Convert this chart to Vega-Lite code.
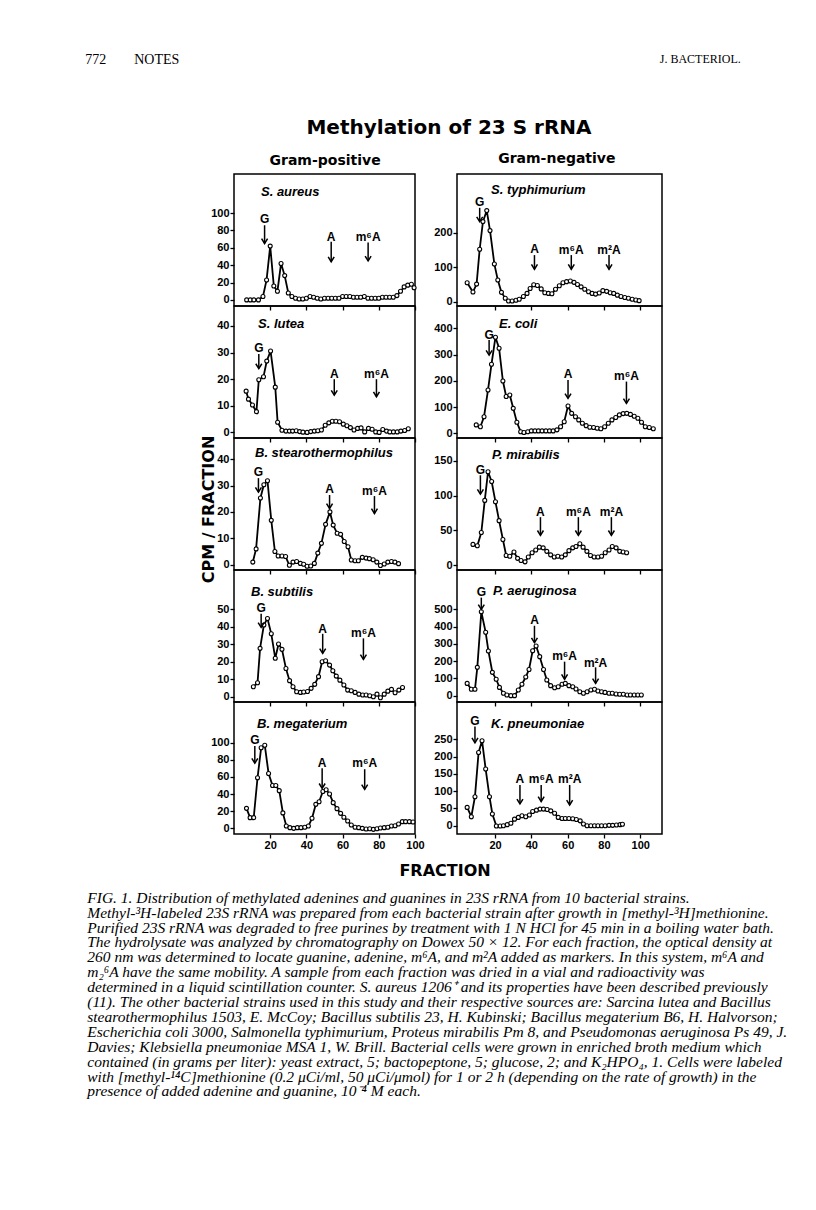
{
"$schema": "https://vega.github.io/schema/vega-lite/v6.json",
"background": "white",
"padding": {"left": 85, "top": 53, "right": 10, "bottom": 10},
"config": {
  "view": {"stroke": "black", "strokeWidth": 1.5},
  "axis": {"domain": false, "grid": false, "tickColor": "black", "tickWidth": 1.3, "tickSize": 4, "labelFont": "Liberation Sans", "labelFontWeight": "bold", "labelFontSize": 11, "labelColor": "black", "labelPadding": 1, "labelFlush": false, "labelOverlap": false},
  "title": {"color": "black"}
},
"datasets": {
"curves": [
{"p":"Sau","x":7,"y":0},{"p":"Sau","x":9,"y":0},{"p":"Sau","x":11,"y":0},{"p":"Sau","x":13.5,"y":0},{"p":"Sau","x":16,"y":4},{"p":"Sau","x":18,"y":23},{"p":"Sau","x":20,"y":62},{"p":"Sau","x":22,"y":16},{"p":"Sau","x":24,"y":10},{"p":"Sau","x":26,"y":42},{"p":"Sau","x":28,"y":28},{"p":"Sau","x":30,"y":8},{"p":"Sau","x":32,"y":4},{"p":"Sau","x":34,"y":2},{"p":"Sau","x":36,"y":1},{"p":"Sau","x":38,"y":1},{"p":"Sau","x":40,"y":2},{"p":"Sau","x":42,"y":4},{"p":"Sau","x":44,"y":3},{"p":"Sau","x":46,"y":2},{"p":"Sau","x":48,"y":1},{"p":"Sau","x":50,"y":2},{"p":"Sau","x":52,"y":2},{"p":"Sau","x":54,"y":2},{"p":"Sau","x":56,"y":2},{"p":"Sau","x":58,"y":2},{"p":"Sau","x":60,"y":4},{"p":"Sau","x":62,"y":4},{"p":"Sau","x":64,"y":4},{"p":"Sau","x":66,"y":3},{"p":"Sau","x":68,"y":3},{"p":"Sau","x":70,"y":3},{"p":"Sau","x":72,"y":4},{"p":"Sau","x":74,"y":2},{"p":"Sau","x":76,"y":2},{"p":"Sau","x":78,"y":2},{"p":"Sau","x":80,"y":2},{"p":"Sau","x":82,"y":3},{"p":"Sau","x":84,"y":3},{"p":"Sau","x":86,"y":3},{"p":"Sau","x":88,"y":3},{"p":"Sau","x":90,"y":5},{"p":"Sau","x":92,"y":10},{"p":"Sau","x":94,"y":15},{"p":"Sau","x":96,"y":17},{"p":"Sau","x":98,"y":18},{"p":"Sau","x":99.5,"y":14},
{"p":"Slu","x":6.7,"y":15.5},{"p":"Slu","x":8,"y":12.5},{"p":"Slu","x":10.2,"y":10.3},{"p":"Slu","x":12.4,"y":7.8},{"p":"Slu","x":13.7,"y":19.8},{"p":"Slu","x":16.3,"y":20.9},{"p":"Slu","x":18.1,"y":26.8},{"p":"Slu","x":20.2,"y":30.6},{"p":"Slu","x":22.8,"y":17},{"p":"Slu","x":24.1,"y":3.8},{"p":"Slu","x":26.5,"y":0.8},{"p":"Slu","x":28.7,"y":0.5},{"p":"Slu","x":30.6,"y":0.5},{"p":"Slu","x":32.4,"y":0.5},{"p":"Slu","x":34.4,"y":0.6},{"p":"Slu","x":36.3,"y":0.3},{"p":"Slu","x":38.1,"y":0.1},{"p":"Slu","x":40.4,"y":0},{"p":"Slu","x":42.4,"y":0.3},{"p":"Slu","x":44.4,"y":0.5},{"p":"Slu","x":46.3,"y":0.6},{"p":"Slu","x":48.3,"y":0.9},{"p":"Slu","x":50.4,"y":2.7},{"p":"Slu","x":52.4,"y":3.6},{"p":"Slu","x":54.3,"y":4.2},{"p":"Slu","x":56.3,"y":4.2},{"p":"Slu","x":58.3,"y":4},{"p":"Slu","x":60.4,"y":3.1},{"p":"Slu","x":62.4,"y":2.5},{"p":"Slu","x":64.3,"y":1.8},{"p":"Slu","x":66.3,"y":0.9},{"p":"Slu","x":68.3,"y":1.5},{"p":"Slu","x":70.2,"y":1.7},{"p":"Slu","x":72.2,"y":0.2},{"p":"Slu","x":74.3,"y":1.5},{"p":"Slu","x":76.3,"y":1.2},{"p":"Slu","x":78.3,"y":0.2},{"p":"Slu","x":80.2,"y":0},{"p":"Slu","x":82.2,"y":1.1},{"p":"Slu","x":84.3,"y":0.5},{"p":"Slu","x":86.1,"y":0.2},{"p":"Slu","x":88.1,"y":0.2},{"p":"Slu","x":90.2,"y":0.2},{"p":"Slu","x":92.2,"y":0.5},{"p":"Slu","x":94.3,"y":0.7},{"p":"Slu","x":96.3,"y":1.4},
{"p":"Bst","x":10.4,"y":1},{"p":"Bst","x":12.2,"y":6},{"p":"Bst","x":14.6,"y":25.3},{"p":"Bst","x":16.5,"y":30.3},{"p":"Bst","x":18.5,"y":31.8},{"p":"Bst","x":20.6,"y":16.8},{"p":"Bst","x":22.6,"y":5},{"p":"Bst","x":24.4,"y":3.3},{"p":"Bst","x":26.5,"y":3.3},{"p":"Bst","x":28.5,"y":3.1},{"p":"Bst","x":30.6,"y":-0.2},{"p":"Bst","x":32.6,"y":1},{"p":"Bst","x":34.6,"y":1.2},{"p":"Bst","x":36.7,"y":0.5},{"p":"Bst","x":38.5,"y":0.2},{"p":"Bst","x":40.4,"y":-0.6},{"p":"Bst","x":42.4,"y":-0.5},{"p":"Bst","x":44.4,"y":0.5},{"p":"Bst","x":46.3,"y":4.4},{"p":"Bst","x":48.3,"y":8.1},{"p":"Bst","x":50.6,"y":15.3},{"p":"Bst","x":53,"y":20},{"p":"Bst","x":54.8,"y":15},{"p":"Bst","x":57,"y":11.9},{"p":"Bst","x":58.9,"y":11.5},{"p":"Bst","x":60.9,"y":8.8},{"p":"Bst","x":63,"y":6.8},{"p":"Bst","x":64.8,"y":1.8},{"p":"Bst","x":66.9,"y":1.5},{"p":"Bst","x":68.7,"y":1.5},{"p":"Bst","x":70.9,"y":2.8},{"p":"Bst","x":73,"y":2.5},{"p":"Bst","x":74.8,"y":2.3},{"p":"Bst","x":76.9,"y":1.9},{"p":"Bst","x":78.9,"y":1},{"p":"Bst","x":80.9,"y":-0.3},{"p":"Bst","x":83,"y":0.3},{"p":"Bst","x":85,"y":1},{"p":"Bst","x":87,"y":1.2},{"p":"Bst","x":88.9,"y":1},{"p":"Bst","x":90.9,"y":0.4},
{"p":"Bsu","x":10.7,"y":5.7},{"p":"Bsu","x":13,"y":8},{"p":"Bsu","x":14.4,"y":27.7},{"p":"Bsu","x":16.5,"y":41},{"p":"Bsu","x":18.5,"y":44.8},{"p":"Bsu","x":20.6,"y":36},{"p":"Bsu","x":22.8,"y":22},{"p":"Bsu","x":24.6,"y":30.2},{"p":"Bsu","x":26.5,"y":27.1},{"p":"Bsu","x":28.7,"y":16.2},{"p":"Bsu","x":30.7,"y":9.2},{"p":"Bsu","x":32.6,"y":5.7},{"p":"Bsu","x":34.6,"y":2.9},{"p":"Bsu","x":36.7,"y":2.5},{"p":"Bsu","x":38.5,"y":2.7},{"p":"Bsu","x":40.6,"y":3},{"p":"Bsu","x":42.6,"y":4.8},{"p":"Bsu","x":44.6,"y":7.1},{"p":"Bsu","x":46.7,"y":11.5},{"p":"Bsu","x":48.7,"y":20},{"p":"Bsu","x":50.6,"y":20.6},{"p":"Bsu","x":52.8,"y":18.1},{"p":"Bsu","x":54.6,"y":14.9},{"p":"Bsu","x":56.5,"y":11.8},{"p":"Bsu","x":58.5,"y":9.5},{"p":"Bsu","x":60.7,"y":6.7},{"p":"Bsu","x":62.8,"y":3.8},{"p":"Bsu","x":64.8,"y":3.4},{"p":"Bsu","x":66.9,"y":2.5},{"p":"Bsu","x":69,"y":1.5},{"p":"Bsu","x":71.1,"y":1},{"p":"Bsu","x":73,"y":1},{"p":"Bsu","x":75,"y":0.6},{"p":"Bsu","x":77,"y":0},{"p":"Bsu","x":79,"y":1.5},{"p":"Bsu","x":80.9,"y":-0.6},{"p":"Bsu","x":83,"y":1.5},{"p":"Bsu","x":85,"y":3.2},{"p":"Bsu","x":87,"y":4.2},{"p":"Bsu","x":89,"y":2.3},{"p":"Bsu","x":91.1,"y":3.8},{"p":"Bsu","x":93.1,"y":5.3},
{"p":"Bme","x":6.9,"y":23.3},{"p":"Bme","x":8.9,"y":12.5},{"p":"Bme","x":10.9,"y":12.5},{"p":"Bme","x":13,"y":59},{"p":"Bme","x":15,"y":94},{"p":"Bme","x":17,"y":97},{"p":"Bme","x":19.1,"y":64},{"p":"Bme","x":21.3,"y":50},{"p":"Bme","x":23.1,"y":50},{"p":"Bme","x":25,"y":44},{"p":"Bme","x":27,"y":18},{"p":"Bme","x":28.9,"y":2.7},{"p":"Bme","x":30.9,"y":0.8},{"p":"Bme","x":33,"y":0},{"p":"Bme","x":35,"y":0.8},{"p":"Bme","x":37,"y":0.8},{"p":"Bme","x":39.1,"y":1.2},{"p":"Bme","x":41.1,"y":2.7},{"p":"Bme","x":43.1,"y":11.7},{"p":"Bme","x":45.2,"y":28},{"p":"Bme","x":47,"y":31},{"p":"Bme","x":49.1,"y":43},{"p":"Bme","x":50.9,"y":45},{"p":"Bme","x":52.8,"y":40},{"p":"Bme","x":54.8,"y":30},{"p":"Bme","x":56.9,"y":23},{"p":"Bme","x":58.9,"y":17.5},{"p":"Bme","x":60.7,"y":13},{"p":"Bme","x":62.8,"y":8.6},{"p":"Bme","x":64.8,"y":3.9},{"p":"Bme","x":66.9,"y":1.2},{"p":"Bme","x":68.9,"y":0.8},{"p":"Bme","x":70.9,"y":0},{"p":"Bme","x":73,"y":-0.8},{"p":"Bme","x":75,"y":-0.4},{"p":"Bme","x":77,"y":-1.2},{"p":"Bme","x":79,"y":-0.4},{"p":"Bme","x":80.9,"y":0.4},{"p":"Bme","x":83,"y":0.8},{"p":"Bme","x":85,"y":1.2},{"p":"Bme","x":87,"y":2.7},{"p":"Bme","x":89,"y":3.1},{"p":"Bme","x":90.9,"y":5},{"p":"Bme","x":93,"y":7.8},{"p":"Bme","x":94.8,"y":7.8},{"p":"Bme","x":96.9,"y":7.8},{"p":"Bme","x":98.9,"y":7.4},
{"p":"Sty","x":4.6,"y":55},{"p":"Sty","x":7.8,"y":28},{"p":"Sty","x":9.8,"y":51},{"p":"Sty","x":11.5,"y":152},{"p":"Sty","x":13.3,"y":232},{"p":"Sty","x":15.4,"y":264},{"p":"Sty","x":17.2,"y":206},{"p":"Sty","x":19.6,"y":109},{"p":"Sty","x":21.5,"y":63},{"p":"Sty","x":23.5,"y":27},{"p":"Sty","x":25.6,"y":10},{"p":"Sty","x":27.4,"y":2},{"p":"Sty","x":29.4,"y":2},{"p":"Sty","x":31.5,"y":4},{"p":"Sty","x":33.3,"y":7},{"p":"Sty","x":35.6,"y":15},{"p":"Sty","x":37.6,"y":24},{"p":"Sty","x":39.3,"y":38},{"p":"Sty","x":41.3,"y":49},{"p":"Sty","x":43.3,"y":47},{"p":"Sty","x":45.4,"y":37},{"p":"Sty","x":47.4,"y":26},{"p":"Sty","x":49.4,"y":24},{"p":"Sty","x":51.3,"y":23},{"p":"Sty","x":53.3,"y":36},{"p":"Sty","x":55.4,"y":46},{"p":"Sty","x":57.4,"y":55},{"p":"Sty","x":59.4,"y":58},{"p":"Sty","x":61.5,"y":60},{"p":"Sty","x":63.5,"y":56},{"p":"Sty","x":65.4,"y":50},{"p":"Sty","x":67.4,"y":43},{"p":"Sty","x":69.4,"y":36},{"p":"Sty","x":71.5,"y":29},{"p":"Sty","x":73.5,"y":24},{"p":"Sty","x":75.4,"y":22},{"p":"Sty","x":77.4,"y":25},{"p":"Sty","x":79.4,"y":32},{"p":"Sty","x":81.5,"y":30},{"p":"Sty","x":83.5,"y":26},{"p":"Sty","x":85.4,"y":24},{"p":"Sty","x":87.4,"y":19},{"p":"Sty","x":89.4,"y":15},{"p":"Sty","x":91.5,"y":12},{"p":"Sty","x":93.5,"y":10},{"p":"Sty","x":95.6,"y":7},{"p":"Sty","x":97.6,"y":5},{"p":"Sty","x":99.4,"y":3},
{"p":"Eco","x":9.6,"y":32},{"p":"Eco","x":11.9,"y":25},{"p":"Eco","x":13.9,"y":63},{"p":"Eco","x":16.1,"y":165},{"p":"Eco","x":18,"y":263},{"p":"Eco","x":20.2,"y":366},{"p":"Eco","x":22.2,"y":324},{"p":"Eco","x":24.3,"y":199},{"p":"Eco","x":26.1,"y":140},{"p":"Eco","x":28.1,"y":146},{"p":"Eco","x":30,"y":95},{"p":"Eco","x":32,"y":42},{"p":"Eco","x":34.1,"y":6},{"p":"Eco","x":35.9,"y":3},{"p":"Eco","x":38,"y":6},{"p":"Eco","x":40,"y":9},{"p":"Eco","x":42,"y":9},{"p":"Eco","x":43.9,"y":9},{"p":"Eco","x":45.9,"y":9},{"p":"Eco","x":48,"y":9},{"p":"Eco","x":50,"y":9},{"p":"Eco","x":52,"y":9},{"p":"Eco","x":54.1,"y":13},{"p":"Eco","x":56.1,"y":25},{"p":"Eco","x":58.1,"y":44},{"p":"Eco","x":60.2,"y":104},{"p":"Eco","x":62.2,"y":76},{"p":"Eco","x":64.3,"y":63},{"p":"Eco","x":66.1,"y":51},{"p":"Eco","x":68.1,"y":38},{"p":"Eco","x":70.2,"y":29},{"p":"Eco","x":72.2,"y":23},{"p":"Eco","x":74.3,"y":22},{"p":"Eco","x":76.3,"y":19},{"p":"Eco","x":78.3,"y":17},{"p":"Eco","x":80.4,"y":25},{"p":"Eco","x":82.4,"y":38},{"p":"Eco","x":84.4,"y":51},{"p":"Eco","x":86.5,"y":60},{"p":"Eco","x":88.5,"y":70},{"p":"Eco","x":90.6,"y":75},{"p":"Eco","x":92.6,"y":76},{"p":"Eco","x":94.6,"y":72},{"p":"Eco","x":96.7,"y":65},{"p":"Eco","x":98.7,"y":57},{"p":"Eco","x":100.7,"y":42},{"p":"Eco","x":102.8,"y":25},{"p":"Eco","x":105,"y":22},{"p":"Eco","x":107.2,"y":17},
{"p":"Pmi","x":7.8,"y":30},{"p":"Pmi","x":10.2,"y":28},{"p":"Pmi","x":12.4,"y":47},{"p":"Pmi","x":14.3,"y":93},{"p":"Pmi","x":16.1,"y":134},{"p":"Pmi","x":18.1,"y":120},{"p":"Pmi","x":20.2,"y":91},{"p":"Pmi","x":22.2,"y":64},{"p":"Pmi","x":24.3,"y":37},{"p":"Pmi","x":26.1,"y":14},{"p":"Pmi","x":28.1,"y":13},{"p":"Pmi","x":30.4,"y":19},{"p":"Pmi","x":32.4,"y":10},{"p":"Pmi","x":34.3,"y":7},{"p":"Pmi","x":36.5,"y":5},{"p":"Pmi","x":38.3,"y":12},{"p":"Pmi","x":40.4,"y":18},{"p":"Pmi","x":42.4,"y":22},{"p":"Pmi","x":44.4,"y":26},{"p":"Pmi","x":46.5,"y":25},{"p":"Pmi","x":48.5,"y":20},{"p":"Pmi","x":50.6,"y":15},{"p":"Pmi","x":52.6,"y":12},{"p":"Pmi","x":54.6,"y":13},{"p":"Pmi","x":56.7,"y":12},{"p":"Pmi","x":58.7,"y":15},{"p":"Pmi","x":60.7,"y":21},{"p":"Pmi","x":62.8,"y":25},{"p":"Pmi","x":64.6,"y":27},{"p":"Pmi","x":66.7,"y":31},{"p":"Pmi","x":68.5,"y":26},{"p":"Pmi","x":70.6,"y":20},{"p":"Pmi","x":72.6,"y":14},{"p":"Pmi","x":74.6,"y":12},{"p":"Pmi","x":76.7,"y":12},{"p":"Pmi","x":78.7,"y":13},{"p":"Pmi","x":80.7,"y":18},{"p":"Pmi","x":82.8,"y":22},{"p":"Pmi","x":84.6,"y":27},{"p":"Pmi","x":86.7,"y":25},{"p":"Pmi","x":88.7,"y":20},{"p":"Pmi","x":90.6,"y":19},{"p":"Pmi","x":92.5,"y":18},
{"p":"Pae","x":4.6,"y":71},{"p":"Pae","x":6.9,"y":37},{"p":"Pae","x":8.9,"y":37},{"p":"Pae","x":10.2,"y":164},{"p":"Pae","x":12.4,"y":486},{"p":"Pae","x":14.8,"y":367},{"p":"Pae","x":16.3,"y":259},{"p":"Pae","x":18.5,"y":135},{"p":"Pae","x":20.6,"y":95},{"p":"Pae","x":22.4,"y":48},{"p":"Pae","x":24.6,"y":14},{"p":"Pae","x":26.5,"y":4},{"p":"Pae","x":28.7,"y":0},{"p":"Pae","x":30.7,"y":0},{"p":"Pae","x":32.8,"y":33},{"p":"Pae","x":34.8,"y":66},{"p":"Pae","x":36.9,"y":108},{"p":"Pae","x":38.7,"y":152},{"p":"Pae","x":40.7,"y":260},{"p":"Pae","x":42.6,"y":288},{"p":"Pae","x":44.6,"y":226},{"p":"Pae","x":46.7,"y":152},{"p":"Pae","x":48.5,"y":91},{"p":"Pae","x":50.6,"y":58},{"p":"Pae","x":52.8,"y":46},{"p":"Pae","x":54.8,"y":52},{"p":"Pae","x":56.9,"y":66},{"p":"Pae","x":58.7,"y":71},{"p":"Pae","x":60.7,"y":58},{"p":"Pae","x":62.8,"y":52},{"p":"Pae","x":64.6,"y":39},{"p":"Pae","x":66.7,"y":23},{"p":"Pae","x":68.7,"y":14},{"p":"Pae","x":70.7,"y":23},{"p":"Pae","x":72.8,"y":33},{"p":"Pae","x":74.8,"y":37},{"p":"Pae","x":76.7,"y":27},{"p":"Pae","x":78.7,"y":23},{"p":"Pae","x":80.6,"y":19},{"p":"Pae","x":82.8,"y":14},{"p":"Pae","x":84.6,"y":14},{"p":"Pae","x":86.7,"y":10},{"p":"Pae","x":88.7,"y":8},{"p":"Pae","x":90.7,"y":8},{"p":"Pae","x":92.8,"y":4},{"p":"Pae","x":94.6,"y":4},{"p":"Pae","x":96.7,"y":4},{"p":"Pae","x":98.7,"y":4},{"p":"Pae","x":100.6,"y":4},
{"p":"Kpn","x":4.6,"y":53},{"p":"Kpn","x":6.9,"y":26},{"p":"Kpn","x":8.9,"y":84},{"p":"Kpn","x":10.9,"y":212},{"p":"Kpn","x":12.8,"y":246},{"p":"Kpn","x":14.8,"y":164},{"p":"Kpn","x":16.9,"y":84},{"p":"Kpn","x":18.5,"y":34},{"p":"Kpn","x":20.7,"y":-1},{"p":"Kpn","x":22.8,"y":-1},{"p":"Kpn","x":24.6,"y":0},{"p":"Kpn","x":26.7,"y":3},{"p":"Kpn","x":28.7,"y":7},{"p":"Kpn","x":30.7,"y":19},{"p":"Kpn","x":32.8,"y":24},{"p":"Kpn","x":34.8,"y":29},{"p":"Kpn","x":36.9,"y":26},{"p":"Kpn","x":38.9,"y":31},{"p":"Kpn","x":40.7,"y":41},{"p":"Kpn","x":42.8,"y":45},{"p":"Kpn","x":44.8,"y":48},{"p":"Kpn","x":46.7,"y":48},{"p":"Kpn","x":48.7,"y":47},{"p":"Kpn","x":50.7,"y":43},{"p":"Kpn","x":52.8,"y":36},{"p":"Kpn","x":54.8,"y":24},{"p":"Kpn","x":56.9,"y":21},{"p":"Kpn","x":58.7,"y":21},{"p":"Kpn","x":60.7,"y":21},{"p":"Kpn","x":62.8,"y":20},{"p":"Kpn","x":64.8,"y":18},{"p":"Kpn","x":66.9,"y":14},{"p":"Kpn","x":68.7,"y":5},{"p":"Kpn","x":70.7,"y":0},{"p":"Kpn","x":72.8,"y":0},{"p":"Kpn","x":74.8,"y":0},{"p":"Kpn","x":76.7,"y":0},{"p":"Kpn","x":78.7,"y":0},{"p":"Kpn","x":80.7,"y":0},{"p":"Kpn","x":82.8,"y":1},{"p":"Kpn","x":84.8,"y":1},{"p":"Kpn","x":86.9,"y":2},{"p":"Kpn","x":88.9,"y":3},{"p":"Kpn","x":90.2,"y":4}
],
"arrows": [
{"p":"Sau","label":"G","x":16.9,"y":93,"top":86,"tip":65},{"p":"Sau","label":"A","x":53.7,"y":73,"top":67,"tip":44},{"p":"Sau","label":"m⁶A","x":74.1,"y":73,"top":66,"tip":45},
{"p":"Slu","label":"G","x":13.7,"y":31.8,"top":29.5,"tip":24},{"p":"Slu","label":"A","x":55.4,"y":22,"top":20,"tip":14},{"p":"Slu","label":"m⁶A","x":78.7,"y":22,"top":20,"tip":13.4},
{"p":"Bst","label":"G","x":13.5,"y":35.3,"top":32.8,"tip":27.5},{"p":"Bst","label":"A","x":52.8,"y":28.5,"top":26.4,"tip":21.3},{"p":"Bst","label":"m⁶A","x":77.6,"y":28,"top":26,"tip":19.4},
{"p":"Bsu","label":"G","x":15,"y":50.6,"top":47.5,"tip":39.7},{"p":"Bsu","label":"A","x":49,"y":39,"top":36,"tip":24.8},{"p":"Bsu","label":"m⁶A","x":71.5,"y":36.6,"top":33.4,"tip":21.4},
{"p":"Bme","label":"G","x":11.5,"y":103,"top":96,"tip":76},{"p":"Bme","label":"A","x":48.7,"y":76,"top":70,"tip":46.7},{"p":"Bme","label":"m⁶A","x":72.2,"y":76,"top":69,"tip":45.5},
{"p":"Sty","label":"G","x":11.5,"y":290,"top":272,"tip":232},{"p":"Sty","label":"A","x":41.7,"y":153,"top":135,"tip":94},{"p":"Sty","label":"m⁶A","x":62,"y":150,"top":135,"tip":94},{"p":"Sty","label":"m²A","x":82.8,"y":150,"top":135,"tip":94},
{"p":"Eco","label":"G","x":16.7,"y":375,"top":355,"tip":298},{"p":"Eco","label":"A","x":60.2,"y":225,"top":203,"tip":133},{"p":"Eco","label":"m⁶A","x":92.4,"y":220,"top":197,"tip":114},
{"p":"Pmi","label":"G","x":11.9,"y":137,"top":129,"tip":102},{"p":"Pmi","label":"A","x":45,"y":76,"top":69,"tip":43},{"p":"Pmi","label":"m⁶A","x":65.9,"y":76,"top":69,"tip":43},{"p":"Pmi","label":"m²A","x":84.1,"y":76,"top":69,"tip":43},
{"p":"Pae","label":"G","x":12.4,"y":602,"top":568,"tip":500},{"p":"Pae","label":"A","x":41.7,"y":438,"top":405,"tip":307},{"p":"Pae","label":"m⁶A","x":58.3,"y":230,"top":197,"tip":95},{"p":"Pae","label":"m²A","x":75.4,"y":191,"top":164,"tip":71},
{"p":"Kpn","label":"G","x":8.9,"y":304,"top":287,"tip":240},{"p":"Kpn","label":"A","x":33.7,"y":135,"top":118,"tip":63},{"p":"Kpn","label":"m⁶A","x":45.4,"y":135,"top":118,"tip":70},{"p":"Kpn","label":"m²A","x":61.1,"y":135,"top":118,"tip":60}
]
},
"title": {
  "text": [
    "\u2003\u2002FIG. 1. Distribution of methylated adenines and guanines in 23S rRNA from 10 bacterial strains.",
    "Methyl-³H-labeled 23S rRNA was prepared from each bacterial strain after growth in [methyl-³H]methionine.",
    "Purified 23S rRNA was degraded to free purines by treatment with 1 N HCl for 45 min in a boiling water bath.",
    "The hydrolysate was analyzed by chromatography on Dowex 50 × 12. For each fraction, the optical density at",
    "260 nm was determined to locate guanine, adenine, m⁶A, and m²A added as markers. In this system, m⁶A and",
    "m₂⁶A have the same mobility. A sample from each fraction was dried in a vial and radioactivity was",
    "determined in a liquid scintillation counter. S. aureus 1206⁺ and its properties have been described previously",
    "(11). The other bacterial strains used in this study and their respective sources are: Sarcina lutea and Bacillus",
    "stearothermophilus 1503, E. McCoy; Bacillus subtilis 23, H. Kubinski; Bacillus megaterium B6, H. Halvorson;",
    "Escherichia coli 3000, Salmonella typhimurium, Proteus mirabilis Pm 8, and Pseudomonas aeruginosa Ps 49, J.",
    "Davies; Klebsiella pneumoniae MSA 1, W. Brill. Bacterial cells were grown in enriched broth medium which",
    "contained (in grams per liter): yeast extract, 5; bactopeptone, 5; glucose, 2; and K₂HPO₄, 1. Cells were labeled",
    "with [methyl-¹⁴C]methionine (0.2 μCi/ml, 50 μCi/μmol) for 1 or 2 h (depending on the rate of growth) in the",
    "presence of added adenine and guanine, 10⁻⁴ M each."
  ],
  "orient": "bottom", "anchor": "start", "frame": "bounds", "font": "Liberation Serif", "fontStyle": "italic", "fontWeight": "normal", "fontSize": 15.5, "lineHeight": 14.9, "offset": 12, "dx": 2, "color": "black"
},
"vconcat": [
{
 "title": {"text": "772\u2003\u2003NOTES", "orient": "top", "anchor": "start", "frame": "bounds", "font": "Liberation Serif", "fontWeight": "normal", "fontSize": 14, "offset": 0, "dx": -114, "dy": 14, "color": "black"},
 "vconcat": [
 {
  "title": {"text": "J. BACTERIOL.", "orient": "top", "anchor": "end", "frame": "bounds", "font": "Liberation Serif", "fontWeight": "normal", "fontSize": 12, "offset": 52, "dx": 78, "color": "black"},
  "vconcat": [
  {
   "title": {"text": "FRACTION", "orient": "bottom", "anchor": "middle", "frame": "bounds", "font": "DejaVu Sans", "fontWeight": "bold", "fontSize": 16, "offset": 12, "dx": 14, "color": "black"},
   "vconcat": [
   {
    "title": {"text": "Methylation of 23 S rRNA", "orient": "top", "anchor": "middle", "frame": "bounds", "font": "DejaVu Sans", "fontWeight": "bold", "fontSize": 20, "offset": 14, "dx": 18, "color": "black"},
    "spacing": 7,
    "hconcat": [
    {
     "title": {"text": "Gram-positive", "orient": "top", "anchor": "middle", "frame": "bounds", "font": "DejaVu Sans", "fontWeight": "bold", "fontSize": 14, "offset": 5, "dx": 13, "color": "black"},
     "bounds": "flush",
     "spacing": 0,
     "vconcat": [
      {
       "width": 181, "height": 132,
       "title": {"text": "S. aureus", "anchor": "start", "frame": "group", "offset": 0, "baseline": "middle", "dx": 27, "dy": 31, "font": "Liberation Sans", "fontSize": 13, "fontWeight": "bold", "fontStyle": "italic", "color": "black"},
       "encoding": {
         "x": {"field": "x", "type": "quantitative", "scale": {"domain": [0, 100], "nice": false, "zero": false}, "axis": {"values": [20, 40, 60, 80, 100], "labels": false, "title": null}},
         "y": {"field": "y", "type": "quantitative", "scale": {"domain": [-7, 145], "nice": false, "zero": false}, "axis": {"values": [0, 20, 40, 60, 80, 100], "title": null}}
       },
       "layer": [
         {"data": {"name": "curves"}, "transform": [{"filter": {"field": "p", "equal": "Sau"}}], "mark": {"type": "line", "color": "black", "strokeWidth": 1.8}},
         {"data": {"name": "curves"}, "transform": [{"filter": {"field": "p", "equal": "Sau"}}], "mark": {"type": "point", "filled": true, "fill": "white", "stroke": "black", "strokeWidth": 1.1, "size": 16, "opacity": 1}},
         {"data": {"name": "arrows"}, "transform": [{"filter": {"field": "p", "equal": "Sau"}}], "mark": {"type": "rule", "color": "black", "strokeWidth": 1.5}, "encoding": {"y": {"field": "top", "type": "quantitative", "scale": {"domain": [-7, 145], "nice": false, "zero": false}, "axis": {"values": [0, 20, 40, 60, 80, 100], "title": null}}, "y2": {"field": "tip"}}},
         {"data": {"name": "arrows"}, "transform": [{"filter": {"field": "p", "equal": "Sau"}}], "mark": {"type": "point", "shape": "M-1,-1.6L0,0L1,-1.6", "filled": false, "stroke": "black", "strokeWidth": 1.5, "size": 36, "opacity": 1}, "encoding": {"y": {"field": "tip", "type": "quantitative", "scale": {"domain": [-7, 145], "nice": false, "zero": false}, "axis": {"values": [0, 20, 40, 60, 80, 100], "title": null}}}},
         {"data": {"name": "arrows"}, "transform": [{"filter": {"field": "p", "equal": "Sau"}}], "mark": {"type": "text", "font": "Liberation Sans", "fontSize": 12, "fontWeight": "bold", "color": "black", "baseline": "middle", "align": "center"}, "encoding": {"text": {"field": "label", "type": "nominal"}}}
       ]
      },
      {
       "width": 181, "height": 132,
       "title": {"text": "S. lutea", "anchor": "start", "frame": "group", "offset": 0, "baseline": "middle", "dx": 24, "dy": 31, "font": "Liberation Sans", "fontSize": 13, "fontWeight": "bold", "fontStyle": "italic", "color": "black"},
       "encoding": {
         "x": {"field": "x", "type": "quantitative", "scale": {"domain": [0, 100], "nice": false, "zero": false}, "axis": {"values": [20, 40, 60, 80, 100], "labels": false, "title": null}},
         "y": {"field": "y", "type": "quantitative", "scale": {"domain": [-2.1, 47.5], "nice": false, "zero": false}, "axis": {"values": [0, 10, 20, 30, 40], "title": null}}
       },
       "layer": [
         {"data": {"name": "curves"}, "transform": [{"filter": {"field": "p", "equal": "Slu"}}], "mark": {"type": "line", "color": "black", "strokeWidth": 1.8}},
         {"data": {"name": "curves"}, "transform": [{"filter": {"field": "p", "equal": "Slu"}}], "mark": {"type": "point", "filled": true, "fill": "white", "stroke": "black", "strokeWidth": 1.1, "size": 16, "opacity": 1}},
         {"data": {"name": "arrows"}, "transform": [{"filter": {"field": "p", "equal": "Slu"}}], "mark": {"type": "rule", "color": "black", "strokeWidth": 1.5}, "encoding": {"y": {"field": "top", "type": "quantitative", "scale": {"domain": [-2.1, 47.5], "nice": false, "zero": false}, "axis": {"values": [0, 10, 20, 30, 40], "title": null}}, "y2": {"field": "tip"}}},
         {"data": {"name": "arrows"}, "transform": [{"filter": {"field": "p", "equal": "Slu"}}], "mark": {"type": "point", "shape": "M-1,-1.6L0,0L1,-1.6", "filled": false, "stroke": "black", "strokeWidth": 1.5, "size": 36, "opacity": 1}, "encoding": {"y": {"field": "tip", "type": "quantitative", "scale": {"domain": [-2.1, 47.5], "nice": false, "zero": false}, "axis": {"values": [0, 10, 20, 30, 40], "title": null}}}},
         {"data": {"name": "arrows"}, "transform": [{"filter": {"field": "p", "equal": "Slu"}}], "mark": {"type": "text", "font": "Liberation Sans", "fontSize": 12, "fontWeight": "bold", "color": "black", "baseline": "middle", "align": "center"}, "encoding": {"text": {"field": "label", "type": "nominal"}}}
       ]
      },
      {
       "width": 181, "height": 132,
       "title": {"text": "B. stearothermophilus", "anchor": "start", "frame": "group", "offset": 0, "baseline": "middle", "dx": 21, "dy": 31, "font": "Liberation Sans", "fontSize": 13, "fontWeight": "bold", "fontStyle": "italic", "color": "black"},
       "encoding": {
         "x": {"field": "x", "type": "quantitative", "scale": {"domain": [0, 100], "nice": false, "zero": false}, "axis": {"values": [20, 40, 60, 80, 100], "labels": false, "title": null}},
         "y": {"field": "y", "type": "quantitative", "scale": {"domain": [-2, 48], "nice": false, "zero": false}, "axis": {"values": [0, 10, 20, 30, 40], "title": "CPM / FRACTION", "titleFont": "DejaVu Sans", "titleFontSize": 16, "titleFontWeight": "bold", "titleColor": "black", "titleX": -21, "titleY": 71, "titleAngle": 270, "titleAlign": "center", "titleBaseline": "alphabetic"}}
       },
       "layer": [
         {"data": {"name": "curves"}, "transform": [{"filter": {"field": "p", "equal": "Bst"}}], "mark": {"type": "line", "color": "black", "strokeWidth": 1.8}},
         {"data": {"name": "curves"}, "transform": [{"filter": {"field": "p", "equal": "Bst"}}], "mark": {"type": "point", "filled": true, "fill": "white", "stroke": "black", "strokeWidth": 1.1, "size": 16, "opacity": 1}},
         {"data": {"name": "arrows"}, "transform": [{"filter": {"field": "p", "equal": "Bst"}}], "mark": {"type": "rule", "color": "black", "strokeWidth": 1.5}, "encoding": {"y": {"field": "top", "type": "quantitative", "scale": {"domain": [-2, 48], "nice": false, "zero": false}, "axis": {"values": [0, 10, 20, 30, 40], "title": "CPM / FRACTION", "titleFont": "DejaVu Sans", "titleFontSize": 16, "titleFontWeight": "bold", "titleColor": "black", "titleX": -21, "titleY": 71, "titleAngle": 270, "titleAlign": "center", "titleBaseline": "alphabetic"}}, "y2": {"field": "tip"}}},
         {"data": {"name": "arrows"}, "transform": [{"filter": {"field": "p", "equal": "Bst"}}], "mark": {"type": "point", "shape": "M-1,-1.6L0,0L1,-1.6", "filled": false, "stroke": "black", "strokeWidth": 1.5, "size": 36, "opacity": 1}, "encoding": {"y": {"field": "tip", "type": "quantitative", "scale": {"domain": [-2, 48], "nice": false, "zero": false}, "axis": {"values": [0, 10, 20, 30, 40], "title": "CPM / FRACTION", "titleFont": "DejaVu Sans", "titleFontSize": 16, "titleFontWeight": "bold", "titleColor": "black", "titleX": -21, "titleY": 71, "titleAngle": 270, "titleAlign": "center", "titleBaseline": "alphabetic"}}}},
         {"data": {"name": "arrows"}, "transform": [{"filter": {"field": "p", "equal": "Bst"}}], "mark": {"type": "text", "font": "Liberation Sans", "fontSize": 12, "fontWeight": "bold", "color": "black", "baseline": "middle", "align": "center"}, "encoding": {"text": {"field": "label", "type": "nominal"}}}
       ]
      },
      {
       "width": 181, "height": 132,
       "title": {"text": "B. subtilis", "anchor": "start", "frame": "group", "offset": 0, "baseline": "middle", "dx": 17, "dy": 35, "font": "Liberation Sans", "fontSize": 13, "fontWeight": "bold", "fontStyle": "italic", "color": "black"},
       "encoding": {
         "x": {"field": "x", "type": "quantitative", "scale": {"domain": [0, 100], "nice": false, "zero": false}, "axis": {"values": [20, 40, 60, 80, 100], "labels": false, "title": null}},
         "y": {"field": "y", "type": "quantitative", "scale": {"domain": [-3, 72.5], "nice": false, "zero": false}, "axis": {"values": [0, 10, 20, 30, 40, 50], "title": null}}
       },
       "layer": [
         {"data": {"name": "curves"}, "transform": [{"filter": {"field": "p", "equal": "Bsu"}}], "mark": {"type": "line", "color": "black", "strokeWidth": 1.8}},
         {"data": {"name": "curves"}, "transform": [{"filter": {"field": "p", "equal": "Bsu"}}], "mark": {"type": "point", "filled": true, "fill": "white", "stroke": "black", "strokeWidth": 1.1, "size": 16, "opacity": 1}},
         {"data": {"name": "arrows"}, "transform": [{"filter": {"field": "p", "equal": "Bsu"}}], "mark": {"type": "rule", "color": "black", "strokeWidth": 1.5}, "encoding": {"y": {"field": "top", "type": "quantitative", "scale": {"domain": [-3, 72.5], "nice": false, "zero": false}, "axis": {"values": [0, 10, 20, 30, 40, 50], "title": null}}, "y2": {"field": "tip"}}},
         {"data": {"name": "arrows"}, "transform": [{"filter": {"field": "p", "equal": "Bsu"}}], "mark": {"type": "point", "shape": "M-1,-1.6L0,0L1,-1.6", "filled": false, "stroke": "black", "strokeWidth": 1.5, "size": 36, "opacity": 1}, "encoding": {"y": {"field": "tip", "type": "quantitative", "scale": {"domain": [-3, 72.5], "nice": false, "zero": false}, "axis": {"values": [0, 10, 20, 30, 40, 50], "title": null}}}},
         {"data": {"name": "arrows"}, "transform": [{"filter": {"field": "p", "equal": "Bsu"}}], "mark": {"type": "text", "font": "Liberation Sans", "fontSize": 12, "fontWeight": "bold", "color": "black", "baseline": "middle", "align": "center"}, "encoding": {"text": {"field": "label", "type": "nominal"}}}
       ]
      },
      {
       "width": 181, "height": 132,
       "title": {"text": "B. megaterium", "anchor": "start", "frame": "group", "offset": 0, "baseline": "middle", "dx": 23, "dy": 35, "font": "Liberation Sans", "fontSize": 13, "fontWeight": "bold", "fontStyle": "italic", "color": "black"},
       "encoding": {
         "x": {"field": "x", "type": "quantitative", "scale": {"domain": [0, 100], "nice": false, "zero": false}, "axis": {"values": [20, 40, 60, 80, 100], "labels": true, "title": null}},
         "y": {"field": "y", "type": "quantitative", "scale": {"domain": [-6.6, 147.4], "nice": false, "zero": false}, "axis": {"values": [0, 20, 40, 60, 80, 100], "title": null}}
       },
       "layer": [
         {"data": {"name": "curves"}, "transform": [{"filter": {"field": "p", "equal": "Bme"}}], "mark": {"type": "line", "color": "black", "strokeWidth": 1.8}},
         {"data": {"name": "curves"}, "transform": [{"filter": {"field": "p", "equal": "Bme"}}], "mark": {"type": "point", "filled": true, "fill": "white", "stroke": "black", "strokeWidth": 1.1, "size": 16, "opacity": 1}},
         {"data": {"name": "arrows"}, "transform": [{"filter": {"field": "p", "equal": "Bme"}}], "mark": {"type": "rule", "color": "black", "strokeWidth": 1.5}, "encoding": {"y": {"field": "top", "type": "quantitative", "scale": {"domain": [-6.6, 147.4], "nice": false, "zero": false}, "axis": {"values": [0, 20, 40, 60, 80, 100], "title": null}}, "y2": {"field": "tip"}}},
         {"data": {"name": "arrows"}, "transform": [{"filter": {"field": "p", "equal": "Bme"}}], "mark": {"type": "point", "shape": "M-1,-1.6L0,0L1,-1.6", "filled": false, "stroke": "black", "strokeWidth": 1.5, "size": 36, "opacity": 1}, "encoding": {"y": {"field": "tip", "type": "quantitative", "scale": {"domain": [-6.6, 147.4], "nice": false, "zero": false}, "axis": {"values": [0, 20, 40, 60, 80, 100], "title": null}}}},
         {"data": {"name": "arrows"}, "transform": [{"filter": {"field": "p", "equal": "Bme"}}], "mark": {"type": "text", "font": "Liberation Sans", "fontSize": 12, "fontWeight": "bold", "color": "black", "baseline": "middle", "align": "center"}, "encoding": {"text": {"field": "label", "type": "nominal"}}}
       ]
      }
     ]
    },
    {
     "title": {"text": "Gram-negative", "orient": "top", "anchor": "middle", "frame": "bounds", "font": "DejaVu Sans", "fontWeight": "bold", "fontSize": 14, "offset": 7, "dx": 9, "color": "black"},
     "bounds": "flush",
     "spacing": 0,
     "vconcat": [
      {
       "width": 205, "height": 132,
       "title": {"text": "S. typhimurium", "anchor": "start", "frame": "group", "offset": 0, "baseline": "middle", "dx": 34, "dy": 29, "font": "Liberation Sans", "fontSize": 13, "fontWeight": "bold", "fontStyle": "italic", "color": "black"},
       "encoding": {
         "x": {"field": "x", "type": "quantitative", "scale": {"domain": [-1, 112], "nice": false, "zero": false}, "axis": {"values": [20, 40, 60, 80, 100], "labels": false, "title": null}},
         "y": {"field": "y", "type": "quantitative", "scale": {"domain": [-12.5, 370], "nice": false, "zero": false}, "axis": {"values": [0, 100, 200], "title": null}}
       },
       "layer": [
         {"data": {"name": "curves"}, "transform": [{"filter": {"field": "p", "equal": "Sty"}}], "mark": {"type": "line", "color": "black", "strokeWidth": 1.8}},
         {"data": {"name": "curves"}, "transform": [{"filter": {"field": "p", "equal": "Sty"}}], "mark": {"type": "point", "filled": true, "fill": "white", "stroke": "black", "strokeWidth": 1.1, "size": 16, "opacity": 1}},
         {"data": {"name": "arrows"}, "transform": [{"filter": {"field": "p", "equal": "Sty"}}], "mark": {"type": "rule", "color": "black", "strokeWidth": 1.5}, "encoding": {"y": {"field": "top", "type": "quantitative", "scale": {"domain": [-12.5, 370], "nice": false, "zero": false}, "axis": {"values": [0, 100, 200], "title": null}}, "y2": {"field": "tip"}}},
         {"data": {"name": "arrows"}, "transform": [{"filter": {"field": "p", "equal": "Sty"}}], "mark": {"type": "point", "shape": "M-1,-1.6L0,0L1,-1.6", "filled": false, "stroke": "black", "strokeWidth": 1.5, "size": 36, "opacity": 1}, "encoding": {"y": {"field": "tip", "type": "quantitative", "scale": {"domain": [-12.5, 370], "nice": false, "zero": false}, "axis": {"values": [0, 100, 200], "title": null}}}},
         {"data": {"name": "arrows"}, "transform": [{"filter": {"field": "p", "equal": "Sty"}}], "mark": {"type": "text", "font": "Liberation Sans", "fontSize": 12, "fontWeight": "bold", "color": "black", "baseline": "middle", "align": "center"}, "encoding": {"text": {"field": "label", "type": "nominal"}}}
       ]
      },
      {
       "width": 205, "height": 132,
       "title": {"text": "E. coli", "anchor": "start", "frame": "group", "offset": 0, "baseline": "middle", "dx": 42, "dy": 31, "font": "Liberation Sans", "fontSize": 13, "fontWeight": "bold", "fontStyle": "italic", "color": "black"},
       "encoding": {
         "x": {"field": "x", "type": "quantitative", "scale": {"domain": [-1, 112], "nice": false, "zero": false}, "axis": {"values": [20, 40, 60, 80, 100], "labels": false, "title": null}},
         "y": {"field": "y", "type": "quantitative", "scale": {"domain": [-18, 485], "nice": false, "zero": false}, "axis": {"values": [0, 100, 200, 300, 400], "title": null}}
       },
       "layer": [
         {"data": {"name": "curves"}, "transform": [{"filter": {"field": "p", "equal": "Eco"}}], "mark": {"type": "line", "color": "black", "strokeWidth": 1.8}},
         {"data": {"name": "curves"}, "transform": [{"filter": {"field": "p", "equal": "Eco"}}], "mark": {"type": "point", "filled": true, "fill": "white", "stroke": "black", "strokeWidth": 1.1, "size": 16, "opacity": 1}},
         {"data": {"name": "arrows"}, "transform": [{"filter": {"field": "p", "equal": "Eco"}}], "mark": {"type": "rule", "color": "black", "strokeWidth": 1.5}, "encoding": {"y": {"field": "top", "type": "quantitative", "scale": {"domain": [-18, 485], "nice": false, "zero": false}, "axis": {"values": [0, 100, 200, 300, 400], "title": null}}, "y2": {"field": "tip"}}},
         {"data": {"name": "arrows"}, "transform": [{"filter": {"field": "p", "equal": "Eco"}}], "mark": {"type": "point", "shape": "M-1,-1.6L0,0L1,-1.6", "filled": false, "stroke": "black", "strokeWidth": 1.5, "size": 36, "opacity": 1}, "encoding": {"y": {"field": "tip", "type": "quantitative", "scale": {"domain": [-18, 485], "nice": false, "zero": false}, "axis": {"values": [0, 100, 200, 300, 400], "title": null}}}},
         {"data": {"name": "arrows"}, "transform": [{"filter": {"field": "p", "equal": "Eco"}}], "mark": {"type": "text", "font": "Liberation Sans", "fontSize": 12, "fontWeight": "bold", "color": "black", "baseline": "middle", "align": "center"}, "encoding": {"text": {"field": "label", "type": "nominal"}}}
       ]
      },
      {
       "width": 205, "height": 132,
       "title": {"text": "P. mirabilis", "anchor": "start", "frame": "group", "offset": 0, "baseline": "middle", "dx": 35, "dy": 30, "font": "Liberation Sans", "fontSize": 13, "fontWeight": "bold", "fontStyle": "italic", "color": "black"},
       "encoding": {
         "x": {"field": "x", "type": "quantitative", "scale": {"domain": [-1, 112], "nice": false, "zero": false}, "axis": {"values": [20, 40, 60, 80, 100], "labels": false, "title": null}},
         "y": {"field": "y", "type": "quantitative", "scale": {"domain": [-6.7, 182.4], "nice": false, "zero": false}, "axis": {"values": [0, 50, 100, 150], "title": null}}
       },
       "layer": [
         {"data": {"name": "curves"}, "transform": [{"filter": {"field": "p", "equal": "Pmi"}}], "mark": {"type": "line", "color": "black", "strokeWidth": 1.8}},
         {"data": {"name": "curves"}, "transform": [{"filter": {"field": "p", "equal": "Pmi"}}], "mark": {"type": "point", "filled": true, "fill": "white", "stroke": "black", "strokeWidth": 1.1, "size": 16, "opacity": 1}},
         {"data": {"name": "arrows"}, "transform": [{"filter": {"field": "p", "equal": "Pmi"}}], "mark": {"type": "rule", "color": "black", "strokeWidth": 1.5}, "encoding": {"y": {"field": "top", "type": "quantitative", "scale": {"domain": [-6.7, 182.4], "nice": false, "zero": false}, "axis": {"values": [0, 50, 100, 150], "title": null}}, "y2": {"field": "tip"}}},
         {"data": {"name": "arrows"}, "transform": [{"filter": {"field": "p", "equal": "Pmi"}}], "mark": {"type": "point", "shape": "M-1,-1.6L0,0L1,-1.6", "filled": false, "stroke": "black", "strokeWidth": 1.5, "size": 36, "opacity": 1}, "encoding": {"y": {"field": "tip", "type": "quantitative", "scale": {"domain": [-6.7, 182.4], "nice": false, "zero": false}, "axis": {"values": [0, 50, 100, 150], "title": null}}}},
         {"data": {"name": "arrows"}, "transform": [{"filter": {"field": "p", "equal": "Pmi"}}], "mark": {"type": "text", "font": "Liberation Sans", "fontSize": 12, "fontWeight": "bold", "color": "black", "baseline": "middle", "align": "center"}, "encoding": {"text": {"field": "label", "type": "nominal"}}}
       ]
      },
      {
       "width": 205, "height": 132,
       "title": {"text": "P. aeruginosa", "anchor": "start", "frame": "group", "offset": 0, "baseline": "middle", "dx": 36, "dy": 34, "font": "Liberation Sans", "fontSize": 13, "fontWeight": "bold", "fontStyle": "italic", "color": "black"},
       "encoding": {
         "x": {"field": "x", "type": "quantitative", "scale": {"domain": [-1, 112], "nice": false, "zero": false}, "axis": {"values": [20, 40, 60, 80, 100], "labels": false, "title": null}},
         "y": {"field": "y", "type": "quantitative", "scale": {"domain": [-36.7, 728], "nice": false, "zero": false}, "axis": {"values": [0, 100, 200, 300, 400, 500], "title": null}}
       },
       "layer": [
         {"data": {"name": "curves"}, "transform": [{"filter": {"field": "p", "equal": "Pae"}}], "mark": {"type": "line", "color": "black", "strokeWidth": 1.8}},
         {"data": {"name": "curves"}, "transform": [{"filter": {"field": "p", "equal": "Pae"}}], "mark": {"type": "point", "filled": true, "fill": "white", "stroke": "black", "strokeWidth": 1.1, "size": 16, "opacity": 1}},
         {"data": {"name": "arrows"}, "transform": [{"filter": {"field": "p", "equal": "Pae"}}], "mark": {"type": "rule", "color": "black", "strokeWidth": 1.5}, "encoding": {"y": {"field": "top", "type": "quantitative", "scale": {"domain": [-36.7, 728], "nice": false, "zero": false}, "axis": {"values": [0, 100, 200, 300, 400, 500], "title": null}}, "y2": {"field": "tip"}}},
         {"data": {"name": "arrows"}, "transform": [{"filter": {"field": "p", "equal": "Pae"}}], "mark": {"type": "point", "shape": "M-1,-1.6L0,0L1,-1.6", "filled": false, "stroke": "black", "strokeWidth": 1.5, "size": 36, "opacity": 1}, "encoding": {"y": {"field": "tip", "type": "quantitative", "scale": {"domain": [-36.7, 728], "nice": false, "zero": false}, "axis": {"values": [0, 100, 200, 300, 400, 500], "title": null}}}},
         {"data": {"name": "arrows"}, "transform": [{"filter": {"field": "p", "equal": "Pae"}}], "mark": {"type": "text", "font": "Liberation Sans", "fontSize": 12, "fontWeight": "bold", "color": "black", "baseline": "middle", "align": "center"}, "encoding": {"text": {"field": "label", "type": "nominal"}}}
       ]
      },
      {
       "width": 205, "height": 132,
       "title": {"text": "K. pneumoniae", "anchor": "start", "frame": "group", "offset": 0, "baseline": "middle", "dx": 34, "dy": 35, "font": "Liberation Sans", "fontSize": 13, "fontWeight": "bold", "fontStyle": "italic", "color": "black"},
       "encoding": {
         "x": {"field": "x", "type": "quantitative", "scale": {"domain": [-1, 112], "nice": false, "zero": false}, "axis": {"values": [20, 40, 60, 80, 100], "labels": true, "title": null}},
         "y": {"field": "y", "type": "quantitative", "scale": {"domain": [-24, 358], "nice": false, "zero": false}, "axis": {"values": [0, 50, 100, 150, 200, 250], "title": null}}
       },
       "layer": [
         {"data": {"name": "curves"}, "transform": [{"filter": {"field": "p", "equal": "Kpn"}}], "mark": {"type": "line", "color": "black", "strokeWidth": 1.8}},
         {"data": {"name": "curves"}, "transform": [{"filter": {"field": "p", "equal": "Kpn"}}], "mark": {"type": "point", "filled": true, "fill": "white", "stroke": "black", "strokeWidth": 1.1, "size": 16, "opacity": 1}},
         {"data": {"name": "arrows"}, "transform": [{"filter": {"field": "p", "equal": "Kpn"}}], "mark": {"type": "rule", "color": "black", "strokeWidth": 1.5}, "encoding": {"y": {"field": "top", "type": "quantitative", "scale": {"domain": [-24, 358], "nice": false, "zero": false}, "axis": {"values": [0, 50, 100, 150, 200, 250], "title": null}}, "y2": {"field": "tip"}}},
         {"data": {"name": "arrows"}, "transform": [{"filter": {"field": "p", "equal": "Kpn"}}], "mark": {"type": "point", "shape": "M-1,-1.6L0,0L1,-1.6", "filled": false, "stroke": "black", "strokeWidth": 1.5, "size": 36, "opacity": 1}, "encoding": {"y": {"field": "tip", "type": "quantitative", "scale": {"domain": [-24, 358], "nice": false, "zero": false}, "axis": {"values": [0, 50, 100, 150, 200, 250], "title": null}}}},
         {"data": {"name": "arrows"}, "transform": [{"filter": {"field": "p", "equal": "Kpn"}}], "mark": {"type": "text", "font": "Liberation Sans", "fontSize": 12, "fontWeight": "bold", "color": "black", "baseline": "middle", "align": "center"}, "encoding": {"text": {"field": "label", "type": "nominal"}}}
       ]
      }
     ]
    }
    ]
   }
   ]
  }
  ]
 }
 ]
}
]
}
